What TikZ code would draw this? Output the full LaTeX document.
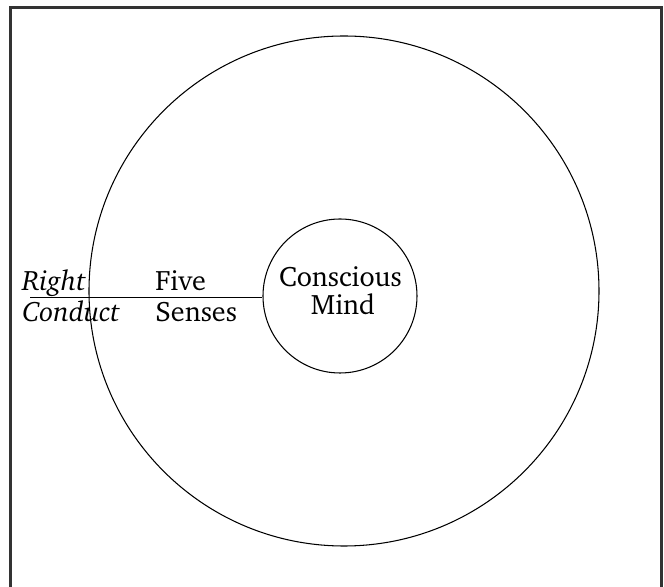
\documentclass[tikz,border=0pt]{standalone}
\usepackage[T1]{fontenc}
\usepackage{charter}
\usetikzlibrary{positioning}

\begin{document}
\begin{tikzpicture}[x=0.02cm, y=-0.02cm,
  ring/.style={draw, circle, line width=0.6pt, inner sep=0pt},
  lbl/.style={anchor=base west, inner sep=0pt, font=\fontsize{16}{19}\selectfont},
  lblc/.style={anchor=base, inner sep=0pt, font=\fontsize{16}{19}\selectfont}]
\useasboundingbox (0,0) rectangle (664,587);
% frame, cut at the bottom
\draw[line width=1.3pt, black!80] (10.5,590) -- (10.5,7.5) -- (661.5,7.5) -- (661.5,590);
\node[ring, minimum size=510*0.02cm] at (344,291) (outer) {};
\node[ring, minimum size=154*0.02cm] at (340,296) (mind) {};
\node[lblc] at (340.5,286.5) (cm1) {Conscious};
\node[lblc] at (343,314.5) (cm2) {Mind};
\node[lbl] at (155,291) (fs1) {Five};
\node[lbl] at (155,322) (fs2) {Senses};
\node[lbl] at (22,291) (rc1) {\itshape Right};
\node[lbl] at (22,322) (rc2) {\itshape Conduct};
\coordinate (rc) at (30,297.5);
\draw[line width=0.6pt] (rc) -- (mind.west |- rc);
\end{tikzpicture}
\end{document}
